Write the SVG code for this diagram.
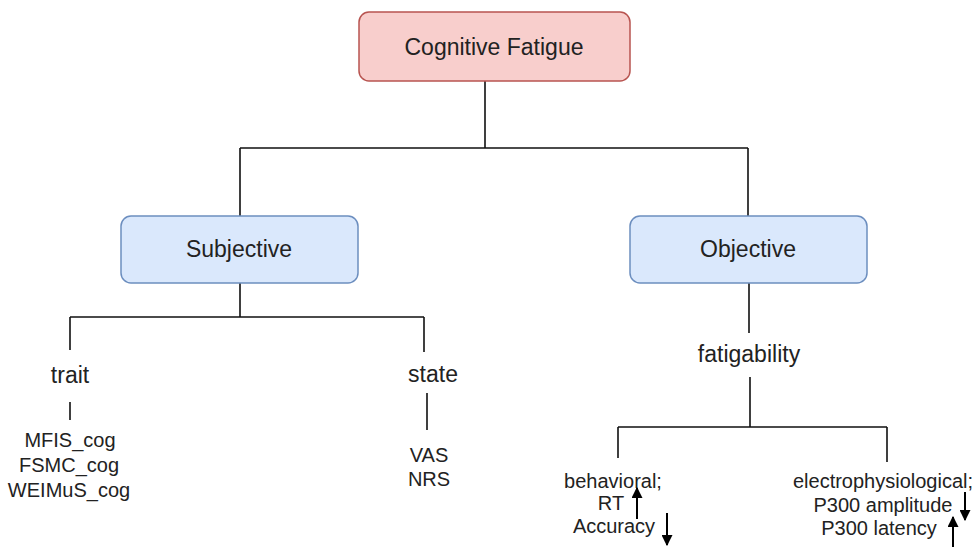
<svg xmlns="http://www.w3.org/2000/svg" width="980" height="556" viewBox="0 0 980 556">
<style>
.t{font-family:"Liberation Sans",Arial,sans-serif;fill:#222;text-anchor:middle}
.b{font-size:23px}
.s{font-size:20px}
.ln{stroke:#111;stroke-width:1.6;fill:none}
.ar{stroke:#000;stroke-width:2;fill:none}
</style>
<defs>
<marker id="ah" viewBox="0 0 10 10" refX="9" refY="5" markerWidth="5.5" markerHeight="5.5" orient="auto" markerUnits="strokeWidth">
<path d="M0,0 L10,5 L0,10 Z" fill="#000"/>
</marker>
</defs>
<rect width="980" height="556" fill="#fff"/>
<g id="connectors">
<path class="ln" d="M485,81 V148 M240,148 H748 M240,148 V216 M748,148 V216"/>
<path class="ln" d="M240,283 V317 M70,317 H424 M70,317 V350 M424,317 V352"/>
<path class="ln" d="M70,402 V420 M427,393 V430"/>
<path class="ln" d="M749,283 V333 M750,377 V427 M618,427 H887 M618,427 V458 M887,427 V462"/>
</g>
<g id="cognitive-fatigue">
<rect x="359" y="12" width="271" height="69" rx="10" fill="#f8cecc" stroke="#b85450" stroke-width="1.5"/>
<text class="t b" x="494" y="55">Cognitive Fatigue</text>
</g>
<g id="subjective">
<rect x="121" y="216" width="237" height="67" rx="10" fill="#dae8fc" stroke="#6c8ebf" stroke-width="1.5"/>
<text class="t b" x="239" y="257">Subjective</text>
</g>
<g id="objective">
<rect x="630" y="216" width="237" height="67" rx="10" fill="#dae8fc" stroke="#6c8ebf" stroke-width="1.5"/>
<text class="t b" x="748" y="257">Objective</text>
</g>
<g id="trait"><text class="t b" x="70" y="383">trait</text></g>
<g id="state"><text class="t b" x="433" y="382">state</text></g>
<g id="fatigability"><text class="t b" x="749" y="362">fatigability</text></g>
<g id="trait-measures">
<text class="t s" x="70" y="447">MFIS_cog</text>
<text class="t s" x="69" y="472">FSMC_cog</text>
<text class="t s" x="69" y="497">WEIMuS_cog</text>
</g>
<g id="state-measures">
<text class="t s" x="429" y="462">VAS</text>
<text class="t s" x="429" y="486">NRS</text>
</g>
<g id="behavioral">
<text class="t s" x="613" y="488">behavioral;</text>
<text class="t s" x="611" y="510">RT</text>
<text class="t s" x="614" y="533">Accuracy</text>
<line class="ar" x1="637" y1="519" x2="637" y2="488" marker-end="url(#ah)"/>
<line class="ar" x1="667" y1="513" x2="667" y2="545" marker-end="url(#ah)"/>
</g>
<g id="electrophysiological">
<text class="t s" x="883" y="488">electrophysiological;</text>
<text class="t s" x="883" y="512">P300 amplitude</text>
<text class="t s" x="879" y="535">P300 latency</text>
<line class="ar" x1="965" y1="492" x2="965" y2="520" marker-end="url(#ah)"/>
<line class="ar" x1="953" y1="547" x2="953" y2="517" marker-end="url(#ah)"/>
</g>
</svg>
